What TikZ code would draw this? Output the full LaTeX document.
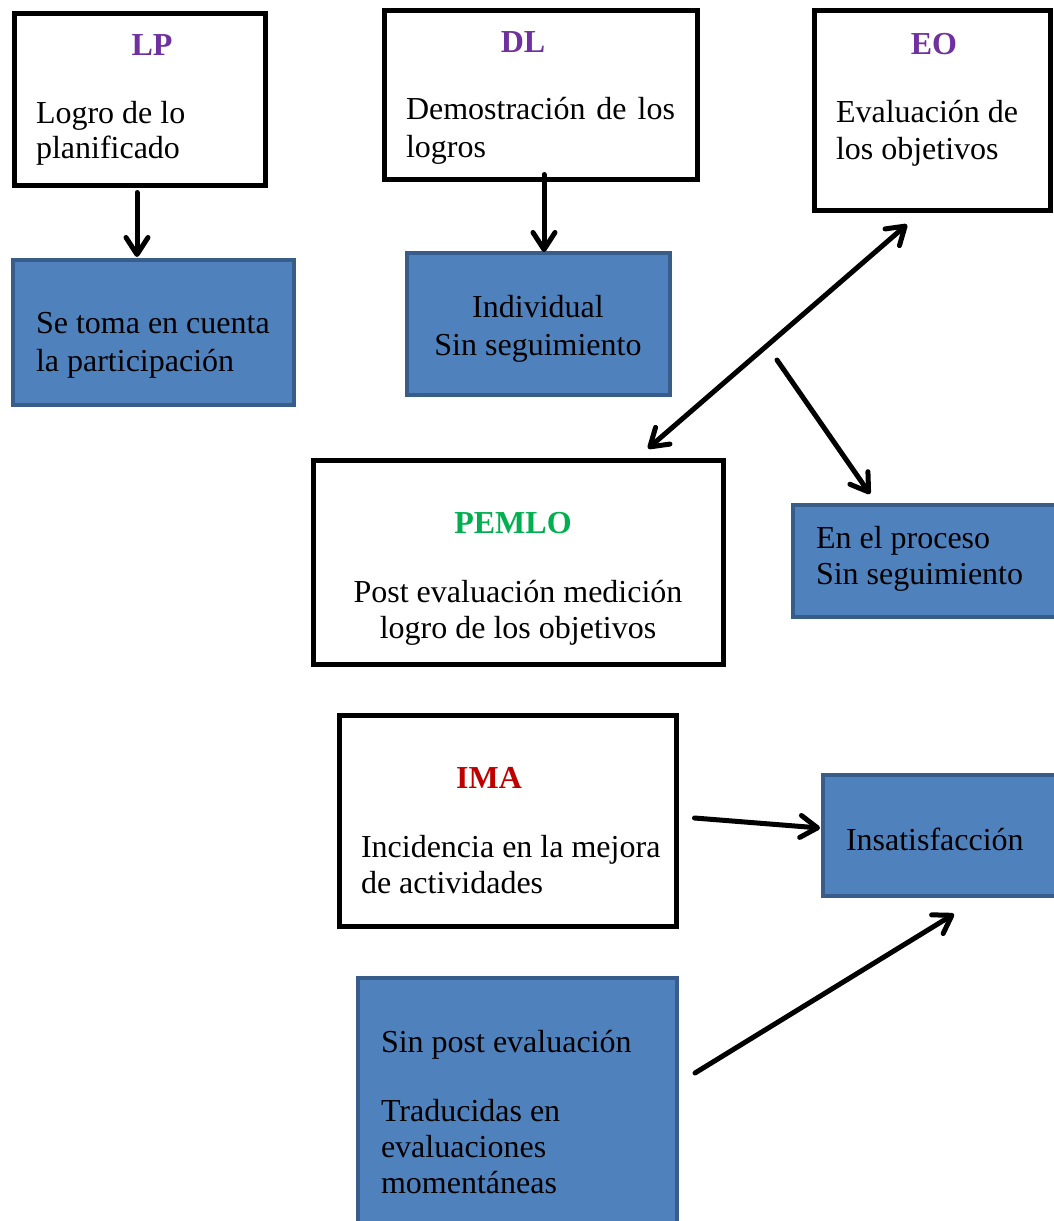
\documentclass[tikz,border=0pt]{standalone}
\usepackage{fontspec}
\setmainfont{Liberation Serif}
\usetikzlibrary{arrows.meta,calc}
\definecolor{boxblue}{HTML}{4F81BD}
\definecolor{boxblueline}{HTML}{385D8A}
\definecolor{lblpurple}{HTML}{7030A0}
\definecolor{lblgreen}{HTML}{00B050}
\definecolor{lblred}{HTML}{C00000}
\begin{document}
\begin{tikzpicture}[x=1pt,y=-1pt,
  wbox/.style={draw=black,line width=5pt,fill=white,rectangle,inner sep=0pt,outer sep=0pt},
  bbox/.style={draw=boxblueline,line width=3.5pt,fill=boxblue,rectangle,inner sep=0pt,outer sep=0pt},
  txt/.style={inner sep=0pt,outer sep=0pt,font=\fontsize{32}{37}\selectfont,anchor=base west},
  ctxt/.style={inner sep=0pt,outer sep=0pt,font=\fontsize{32}{37}\selectfont,anchor=base},
  hd/.style={inner sep=0pt,outer sep=0pt,font=\fontsize{32}{37}\selectfont\bfseries,anchor=base},
  tipb/.style={},
  arr/.style={line width=5pt,line cap=round,-{Straight Barb[length=17pt,width=22pt,line cap=round,line join=round]}},
  darr/.style={line width=5pt,line cap=round,{Straight Barb[length=17pt,width=22pt,line cap=round,line join=round]}-{Straight Barb[length=17pt,width=22pt,line cap=round,line join=round]}}
]
\useasboundingbox (0,0) rectangle (1054,1221);
\fill[white] (0,0) rectangle (1054,1221);

% boxes
\node[wbox,minimum width=251pt,minimum height=172pt] (lp) at (140,99.5) {};
\node[wbox,minimum width=313pt,minimum height=169pt] (dl) at (541,95) {};
\node[wbox,minimum width=236pt,minimum height=200pt] (eo) at (932.5,110.5) {};
\node[wbox,minimum width=410pt,minimum height=204pt] (pemlo) at (518.5,562.5) {};
\node[wbox,minimum width=337pt,minimum height=211pt] (ima) at (508,821) {};
\node[bbox,minimum width=281pt,minimum height=145pt] (lpb) at (153.5,332.5) {};
\node[bbox,minimum width=263pt,minimum height=142pt] (dlb) at (538.5,324) {};
\node[bbox,minimum width=267pt,minimum height=112pt] (procb) at (926.5,561) {};
\node[bbox,minimum width=235pt,minimum height=121pt] (insb) at (940.5,835.5) {};
\node[bbox,minimum width=319pt,minimum height=252pt] (sinb) at (517.5,1104) {};

% texts
\node[hd,text=lblpurple] (lpt) at (152,55) {LP};
\node[txt] (lp1) at (36,123) {Logro de lo};
\node[txt] (lp2) at (36,158) {planificado};
\node[txt] (lpb1) at (36,333) {Se toma en cuenta};
\node[txt] (lpb2) at (36,371) {la participación};

\node[hd,text=lblpurple] (dlt) at (523,52) {DL};
\node[txt] (dl1) at (406,119) {\makebox[269pt][s]{Demostración de los}};
\node[txt] (dl2) at (406,157) {logros};
\node[ctxt] (dlb1) at (538,317) {Individual};
\node[ctxt] (dlb2) at (538,355) {Sin seguimiento};

\node[hd,text=lblpurple] (eot) at (934,54) {EO};
\node[txt] (eo1) at (836,122) {Evaluación de};
\node[txt] (eo2) at (836,159) {los objetivos};
\node[txt] (pr1) at (816,548) {En el proceso};
\node[txt] (pr2) at (816,584) {Sin seguimiento};

\node[hd,text=lblgreen] (pet) at (513,533) {PEMLO};
\node[ctxt] (pe1) at (518,602) {Post evaluación medición};
\node[ctxt] (pe2) at (518,638) {logro de los objetivos};

\node[hd,text=lblred] (imt) at (489,788) {IMA};
\node[txt] (im1) at (361,857) {Incidencia en la mejora};
\node[txt] (im2) at (361,893) {de actividades};
\node[txt] (ins1) at (846,850) {Insatisfacción};

\node[txt] (sp1) at (381,1052) {Sin post evaluación};
\node[txt] (sp2) at (381,1121) {Traducidas en};
\node[txt] (sp3) at (381,1157) {evaluaciones};
\node[txt] (sp4) at (381,1193) {momentáneas};

% connectors
\coordinate (fork) at (777,360);
\draw[arr] ($(lp.south)+(-3,7)$) -- ($(lpb.north)+(-16.5,-3)$);
\draw[arr] ($(dl.south)+(3,-5)$) -- ($(dlb.north)+(5.5,-1)$);
\draw[darr] ($(pemlo.north)+(129.5,-12)$) -- ($(eo.south)+(-25.5,14)$);
\draw[arr] (fork) -- ($(procb.north)+(-56.5,-11)$);
\draw[arr] ($(ima.east)+(18,-3)$) -- ($(insb.west)+(-3,-7.5)$);
\draw[arr] ($(sinb.east)+(18,-31)$) -- ($(insb.south)+(13.5,18)$);
\end{tikzpicture}
\end{document}
